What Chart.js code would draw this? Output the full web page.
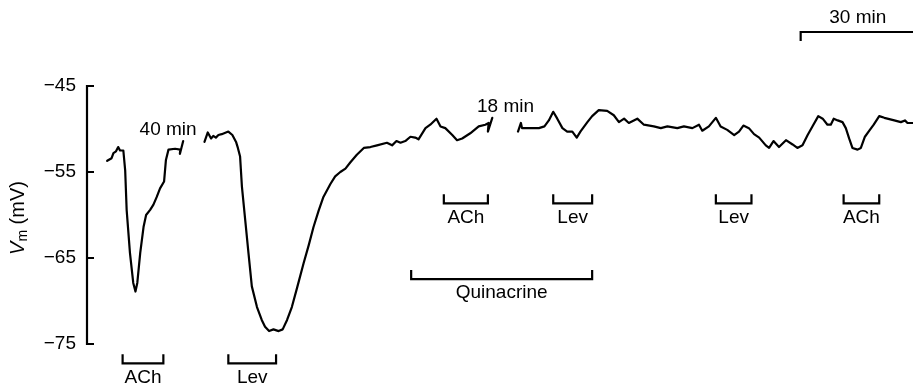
<!DOCTYPE html>
<html>
<head>
<meta charset="utf-8">
<script src="https://cdn.jsdelivr.net/npm/chart.js@4.4.1/dist/chart.umd.min.js"></script>
<style>
  body { margin: 0; background: #fff; }
  canvas { display: block; }
</style>
</head>
<body>
<canvas id="vmChart" width="913" height="384"></canvas>
<script>
// time is displayed minutes (breaks of 40 and 18 min are cut out), Vm in mV
const seg1Time = [5.5, 6.7, 7.2, 7.9, 8.5, 9.0, 9.9, 10.4, 10.8, 11.7, 12.6, 13.2, 13.7, 14.5, 15.4, 16.1, 17.2, 18.1, 19.0, 19.9, 21.0, 21.5, 22.2, 24.0, 25.4, 25.3, 26.2];
const seg1Vm = [-53.7, -53.4, -52.8, -52.6, -52.1, -52.5, -52.5, -54.8, -59.4, -64.4, -67.9, -68.9, -67.9, -64.4, -61.4, -60.0, -59.4, -58.8, -57.9, -56.9, -56.1, -53.6, -52.4, -52.3, -52.4, -52.9, -51.4];

const seg2Time = [32.0, 32.9, 33.8, 34.4, 35.1, 35.8, 36.7, 38.5, 39.6, 40.6, 41.1, 41.7, 42.2, 43.1, 44.0, 44.9, 46.3, 47.6, 48.5, 49.6, 50.8, 52.2, 53.3, 54.5, 55.8, 57.2, 59.0, 60.4, 61.7, 63.1, 64.4, 66.3, 67.6, 69.0, 70.4, 71.7, 73.5, 75.4, 77.2, 79.0, 81.7, 83.1, 84.3, 85.4, 86.7, 88.1, 89.4, 90.3, 92.2, 93.5, 95.2, 96.3, 97.6, 99.5, 100.8, 102.2, 104.4, 106.7, 108.5, 109.4, 109.2, 110.4];
const seg2Vm = [-51.5, -50.4, -51.1, -50.8, -51.0, -50.7, -50.6, -50.3, -50.7, -51.5, -52.2, -53.2, -56.7, -60.6, -64.5, -68.3, -70.7, -72.2, -73.0, -73.5, -73.3, -73.5, -73.3, -72.2, -70.7, -68.5, -65.6, -63.5, -61.4, -59.5, -57.9, -56.4, -55.5, -55.0, -54.6, -53.9, -53.0, -52.2, -52.1, -51.9, -51.6, -51.9, -51.4, -51.6, -51.4, -50.9, -51.0, -51.2, -49.9, -49.5, -48.8, -49.7, -49.9, -50.7, -51.3, -51.1, -50.5, -49.7, -49.5, -49.3, -50.3, -48.7];

const seg3Time = [117.4, 118.2, 118.5, 120.8, 123.1, 124.6, 125.8, 127.0, 128.1, 129.5, 130.8, 132.2, 133.4, 134.4, 136.3, 137.6, 139.4, 141.7, 143.5, 144.9, 146.3, 147.6, 149.9, 151.7, 154.4, 156.3, 158.1, 160.8, 162.6, 164.9, 166.7, 167.6, 169.4, 171.3, 172.6, 174.4, 176.3, 177.6, 178.8, 180.3, 181.7, 183.1, 184.9, 185.8, 187.0, 188.5, 190.4, 192.2, 193.5, 194.9, 196.3, 197.6, 199.2, 200.4, 201.7, 202.6, 203.4, 204.5, 205.8, 206.7, 207.6, 208.5, 209.9, 210.8, 211.9, 213.1, 214.3, 215.8, 217.2, 219.9, 221.7, 222.8, 223.5, 225.0];
const seg3Vm = [-50.3, -49.3, -49.9, -49.9, -49.9, -49.7, -49.0, -48.0, -48.8, -49.9, -50.3, -50.3, -51.0, -50.3, -49.2, -48.5, -47.8, -47.9, -48.4, -49.2, -48.8, -49.3, -48.8, -49.5, -49.7, -49.9, -49.7, -49.9, -49.7, -49.9, -49.5, -50.2, -49.7, -48.7, -49.7, -50.1, -50.7, -50.3, -49.6, -49.9, -50.6, -51.0, -51.9, -52.2, -51.4, -52.1, -51.3, -51.8, -52.2, -51.9, -50.7, -49.7, -48.5, -48.8, -49.5, -49.5, -48.8, -49.0, -49.2, -49.9, -51.1, -52.2, -52.4, -52.2, -50.9, -50.2, -49.5, -48.5, -48.7, -49.0, -49.2, -49.0, -49.3, -49.3];

const yTicks = [-45, -55, -65, -75];

// drug applications (min)
const drugLabels = ['ACh', 'Lev', 'ACh', 'Lev', 'Quinacrine', 'Lev', 'ACh'];
const drugStart = [9.7, 38.5, 97.2, 127.0, 88.3, 171.3, 206.1];
const drugEnd = [20.8, 51.5, 109.2, 137.6, 137.6, 181.0, 215.8];
const drugRow = [0, 0, 1, 1, 2, 1, 1];

const gapLabels = ['40 min', '18 min'];
const gapTime = [22.1, 114.0];

const scaleBarStart = 194.4;
const scaleBarMin = 30;

const FONT = '"Liberation Sans", Arial, sans-serif';

function pts(t, v) {
    return t.map((x, i) => ({ x: x, y: v[i] }));
}

function traceSet(t, v) {
    return {
        data: pts(t, v),
        borderColor: '#000',
        borderWidth: 2.2,
        pointRadius: 0,
        tension: 0,
        borderJoinStyle: 'round',
        borderCapStyle: 'round'
    };
}

const extras = {
    id: 'extras',
    afterDraw(chart) {
        const ctx = chart.ctx;
        const xs = chart.scales.x, ys = chart.scales.y;
        const ax = chart.chartArea.left;
        ctx.save();
        ctx.strokeStyle = '#000';
        ctx.fillStyle = '#000';
        ctx.lineWidth = 2.2;
        ctx.lineCap = 'butt';

        // axis line with inward ticks
        ctx.beginPath();
        ctx.moveTo(ax + 7, ys.getPixelForValue(-45));
        ctx.lineTo(ax, ys.getPixelForValue(-45));
        ctx.lineTo(ax, ys.getPixelForValue(-75));
        ctx.lineTo(ax + 7, ys.getPixelForValue(-75));
        yTicks.forEach(v => {
            const p = ys.getPixelForValue(v);
            ctx.moveTo(ax, p);
            ctx.lineTo(ax + 7, p);
        });
        ctx.stroke();

        // brackets under the trace
        const rowTop = [-76.2, -57.6, -66.4];
        ctx.font = '19px ' + FONT;
        ctx.textAlign = 'center';
        ctx.textBaseline = 'middle';
        drugLabels.forEach((lab, i) => {
            const x0 = xs.getPixelForValue(drugStart[i]);
            const x1 = xs.getPixelForValue(drugEnd[i]);
            const top = ys.getPixelForValue(rowTop[drugRow[i]]);
            ctx.beginPath();
            ctx.moveTo(x0, top);
            ctx.lineTo(x0, top + 9);
            ctx.lineTo(x1, top + 9);
            ctx.lineTo(x1, top);
            ctx.stroke();
            ctx.fillText(lab, (x0 + x1) / 2, top + 23);
        });

        // gaps in the record
        const gapY = [130, 107];
        gapLabels.forEach((lab, i) => {
            ctx.fillText(lab, xs.getPixelForValue(gapTime[i]), gapY[i]);
        });

        // scale bar
        const sb0 = xs.getPixelForValue(scaleBarStart);
        const sb1 = xs.getPixelForValue(scaleBarStart + scaleBarMin);
        ctx.beginPath();
        ctx.moveTo(sb0, 41);
        ctx.lineTo(sb0, 32);
        ctx.lineTo(sb1 + 4, 32);
        ctx.stroke();
        ctx.fillText(scaleBarMin + ' min', (sb0 + sb1) / 2 + 2, 18);

        // y title: Vm (mV)
        ctx.translate(18, 218);
        ctx.rotate(-Math.PI / 2);
        ctx.textAlign = 'left';
        const fV = 'italic 20px ' + FONT, fSub = '14px ' + FONT, fRest = '20px ' + FONT;
        ctx.font = fV; const wV = ctx.measureText('V').width;
        ctx.font = fSub; const wS = ctx.measureText('m').width;
        ctx.font = fRest; const wR = ctx.measureText(' (mV)').width;
        let cx = -(wV + wS + wR) / 2;
        ctx.font = fV; ctx.fillText('V', cx, 0); cx += wV;
        ctx.font = fSub; ctx.fillText('m', cx, 5); cx += wS;
        ctx.font = fRest; ctx.fillText(' (mV)', cx, 0);
        ctx.restore();
    }
};

new Chart(document.getElementById('vmChart').getContext('2d'), {
    type: 'line',
    data: {
        datasets: [traceSet(seg1Time, seg1Vm), traceSet(seg2Time, seg2Vm), traceSet(seg3Time, seg3Vm)]
    },
    options: {
        responsive: false,
        animation: false,
        layout: { padding: { top: 86, bottom: 40, left: 0, right: 0 } },
        plugins: { legend: { display: false }, tooltip: { enabled: false } },
        scales: {
            x: { type: 'linear', min: 0, max: 225, display: false },
            y: {
                min: -75,
                max: -45,
                afterFit(s) { s.width = 87; },
                afterBuildTicks(s) { s.ticks = yTicks.map(v => ({ value: v })); },
                grid: { display: false, drawTicks: false },
                border: { display: false },
                ticks: {
                    color: '#000',
                    padding: 11,
                    font: { family: FONT, size: 19 },
                    callback: v => '\u2212' + Math.abs(v)
                }
            }
        }
    },
    plugins: [extras]
});
</script>
</body>
</html>
